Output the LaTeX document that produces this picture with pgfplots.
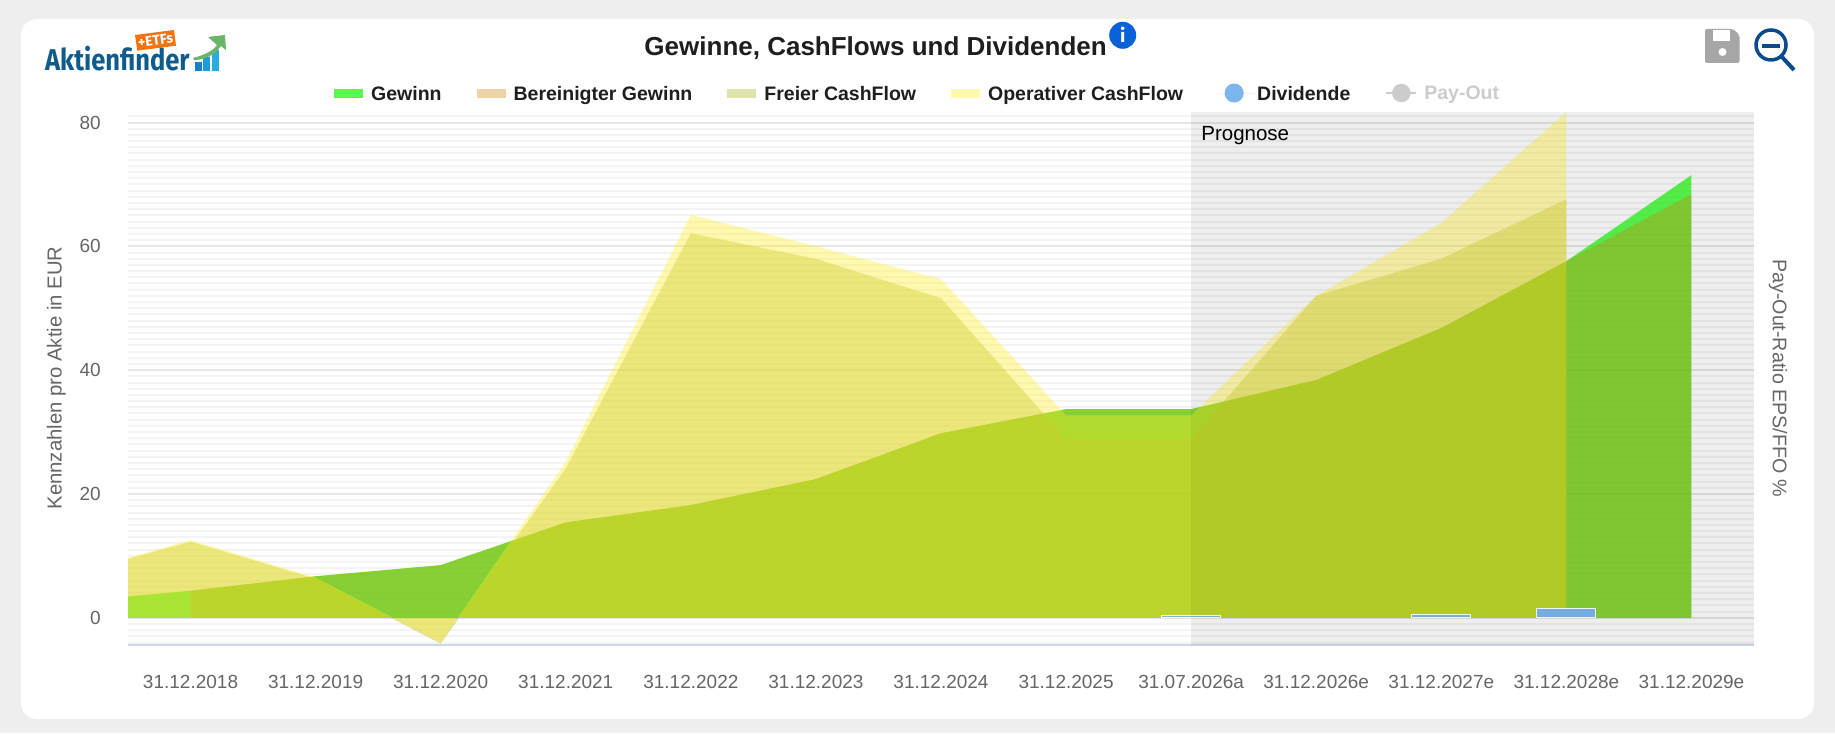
\documentclass[border=0pt]{standalone}
\usepackage{fontspec}
\usepackage{pgfplots}
\pgfplotsset{compat=1.18}
\setmainfont{Liberation Sans}
\newfontfamily\logofont{Fira Sans}
\definecolor{pagebg}{HTML}{EEEEEE}
\definecolor{labelgray}{HTML}{666666}
\definecolor{titlecol}{HTML}{1E1E1E}
\definecolor{gridmajor}{HTML}{E6E6E6}
\definecolor{gridminor}{HTML}{F4F4F4}
\definecolor{axisblue}{HTML}{CCD6EB}
\definecolor{gewinn}{RGB}{22,246,3}
\definecolor{bereinigt}{RGB}{211,138,14}
\definecolor{freiercf}{RGB}{175,180,30}
\definecolor{opercf}{RGB}{255,240,40}
\definecolor{dividende}{HTML}{7CB5EC}
\definecolor{payout}{HTML}{CCCCCC}
\definecolor{logoblue}{HTML}{0F5C8C}
\definecolor{zoomblue}{HTML}{0B4A8C}
\newcommand{\fs}[1]{\fontsize{#1}{#1}\selectfont}
\pgfplotsset{
  swatch/.style 2 args={legend image code/.code={
    \fill[#1,fill opacity=#2] (0pt,-4.5pt) rectangle (29pt,4.5pt);
    \path[draw=none] (0pt,0pt) -- (37pt,0pt);}},
}
\begin{document}
\begin{tikzpicture}
\path[use as bounding box,fill=pagebg] (0pt,0pt) rectangle (1835pt,733pt);
\fill[white,rounded corners=16pt] (21pt,14pt) rectangle (1814pt,714pt);
\begin{axis}[
    at={(128pt,88pt)},
    anchor=south west,
    scale only axis,
    width=1626pt,
    height=533pt,
    clip=false,
    xmin=-0.5,
    xmax=12.5,
    ymin=-4.4,
    ymax=81.7,
    xtick={0,...,12},
    xticklabels={31.12.2018,31.12.2019,31.12.2020,31.12.2021,31.12.2022,31.12.2023,31.12.2024,31.12.2025,31.07.2026a,31.12.2026e,31.12.2027e,31.12.2028e,31.12.2029e},
    ytick={0,20,40,60,80},
    minor ytick={-4,-3,...,81},
    ymajorgrids,
    yminorgrids,
    major grid style={draw=gridmajor,line width=2pt},
    minor grid style={draw=gridminor,line width=2pt},
    axis lines*=left,
    x axis line style={draw=axisblue,line width=1.6pt,-},
    y axis line style={draw=none,-},
    tick style={draw=none},
    /pgf/number format/assume math mode=true,
    tick label style={font=\fs{19},text=labelgray,inner sep=0pt},
    xticklabel style={anchor=base,yshift=-44pt},
    yticklabel style={anchor=east,xshift=-27pt},
    ylabel={Kennzahlen pro Aktie in EUR},
    every axis y label/.style={at={(rel axis cs:-0.044,0.501)},rotate=90,anchor=center,font=\fs{20.3},text=labelgray},
    title={Gewinne, CashFlows und Dividenden},
    title style={at={(rel axis cs:0.4598,1.0956)},anchor=base,font=\fs{26}\bfseries,text=titlecol,inner sep=0pt},
    legend columns=6,
    legend style={at={(rel axis cs:0.1267,1.0356)},anchor=west,draw=none,fill=none,
      inner sep=0pt,font=\fs{19.5}\bfseries,text=titlecol,
      nodes={inner sep=0pt,text depth=0pt},
      /tikz/every even column/.append style={column sep=35pt}},
    legend cell align=left,
]
% Prognose band, part under the areas
\fill[black,fill opacity=0.025] (axis cs:8,-4.4) rectangle (axis cs:12.5,81.7);
% Gewinn
\addplot[fill=gewinn,fill opacity=0.7,draw=none,swatch={gewinn}{0.7}] coordinates {
(-0.5,3.45) (0,4.37) (1,6.7) (2,8.5) (3,15.4) (4,18.2) (5,22.4) (6,29.8) (7,33.7) (8,33.7) (9,38.4) (10,46.8) (11,57.6) (12,71.5)
} \closedcycle;
\addlegendentry{Gewinn}
% Bereinigter Gewinn
\addplot[fill=bereinigt,fill opacity=0.36,draw=none,swatch={bereinigt}{0.36}] coordinates {
(0,4.37) (1,6.7) (2,8.5) (3,15.4) (4,18.2) (5,22.4) (6,29.8) (7,33.7) (8,33.7) (9,38.4) (10,46.8) (11,57.6) (12,68.4)
} \closedcycle;
\addlegendentry{Bereinigter Gewinn}
% Freier CashFlow
\addplot[fill=freiercf,fill opacity=0.37,draw=none,swatch={freiercf}{0.37}] coordinates {
(-0.5,9.5) (0,12.3) (1,6.3) (2,-4.2) (3,24.1) (4,62.1) (5,58.0) (6,51.6) (7,28.9) (8,28.9) (9,52.0) (10,58.0) (11,67.6)
} \closedcycle;
\addlegendentry{Freier CashFlow}
% Operativer CashFlow
\addplot[fill=opercf,fill opacity=0.37,draw=none,swatch={opercf}{0.37}] coordinates {
(-0.5,9.7) (0,12.55) (1,6.5) (2,-4.0) (3,25.2) (4,65.1) (5,60.0) (6,54.7) (7,32.7) (8,32.7) (9,52.0) (10,63.8) (11,81.7)
} \closedcycle;
\addlegendentry{Operativer CashFlow}
% Dividende
\addplot[ybar,bar width=59pt,fill=dividende,draw=white,line width=1pt,
  legend image code/.code={
    \fill[dividende] (16pt,0pt) circle[radius=9pt];
    \path[draw=none] (0pt,0pt) -- (39pt,0pt);}] coordinates {
(8,0.3) (10,0.6) (11,1.45)
};
\addlegendentry{Dividende}
% Pay-Out (hidden series, legend only)
\addlegendimage{legend image code/.code={
    \draw[payout,line width=2pt] (0pt,0pt) -- (30pt,0pt);
    \fill[payout] (15pt,0pt) circle[radius=9pt];
    \path[draw=none] (0pt,0pt) -- (38pt,0pt);}}
\addlegendentry{\textcolor{payout}{Pay-Out}}
% Prognose band, part over the areas
\fill[black,fill opacity=0.042] (axis cs:8,-4.4) rectangle (axis cs:12.5,81.7);
\node[anchor=base west,font=\fs{20.5},inner sep=0pt,text=black] at (axis cs:8.08,77.1) {Prognose};
\node[rotate=-90,anchor=center,font=\fs{19.7},text=labelgray,inner sep=0pt] at (rel axis cs:1.0148,0.501) {Pay-Out-Ratio EPS/FFO \%};
\end{axis}
\begin{scope}[x=1pt,y=-1pt,shift={(0pt,733pt)}]
% logo
\node[anchor=base west,inner sep=0pt,text=logoblue,font=\logofont\bfseries\fs{30},xscale=0.85,transform shape] at (45,71) {Aktienfinder};
\definecolor{logoorange}{HTML}{F2730F}
\fill[logoorange] (135,35) -- (174,30) -- (176,45.7) -- (137.3,50.7) -- cycle;
\node[rotate=7,inner sep=0pt,text=white,font=\logofont\bfseries\fs{14}] at (155.5,40.3) {+ETFs};
\definecolor{logobarA}{HTML}{1583C6}
\definecolor{logobarB}{HTML}{1E9BDC}
\definecolor{logobarC}{HTML}{29ABE2}
\definecolor{logoarrow}{HTML}{6BB56B}
\fill[logobarA] (195,61.7) rectangle (201.7,71);
\fill[logobarB] (203.3,56.7) rectangle (210,71);
\fill[logobarC] (211.7,50) rectangle (219,71);
\fill[logoarrow] (193,58) .. controls (205,55) and (214,50) .. (217,45) -- (208,37) -- (225,35) -- (226,50) -- (221,46) .. controls (215,55) and (205,60) .. (194,60) -- cycle;
% info icon
\definecolor{infoblue}{HTML}{0A62D8}
\fill[infoblue] (1122.7,35.3) circle[radius=13.5];
\node[text=white,font=\logofont\bfseries\fs{19},inner sep=0pt] at (1122.7,35.3) {i};
% save icon
\fill[gray!70,rounded corners=2pt] (1705,29) -- (1733,29) -- (1739.5,35) -- (1739.5,63) -- (1705,63) -- cycle;
\fill[white] (1713,30) rectangle (1730,41);
\fill[white] (1722.5,52) circle[radius=4];
% zoom icon
\draw[zoomblue,line width=3.5pt] (1771,45) circle[radius=15];
\draw[zoomblue,line width=3.5pt] (1762,46) -- (1780,46);
\draw[zoomblue,line width=4pt] (1782,57) -- (1794,70);
\end{scope}
\end{tikzpicture}
\end{document}
